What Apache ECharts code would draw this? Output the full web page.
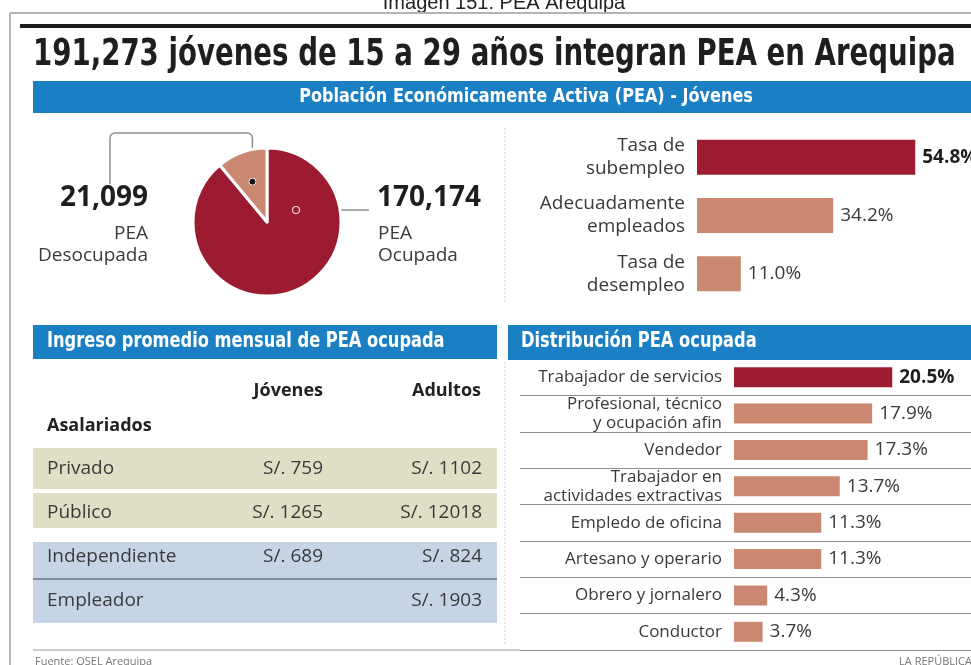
<!DOCTYPE html>
<html>
<head>
<meta charset="utf-8">
<script src="https://cdn.jsdelivr.net/npm/echarts@6/dist/echarts.min.js"></script>
<style>
  html, body { margin: 0; padding: 0; background: #ffffff; }
  #chart { width: 971px; height: 665px; }
</style>
</head>
<body>
<div id="chart"></div>
<script>
// Población Económicamente Activa (PEA) juvenil de Arequipa

// PEA ocupada / desocupada (personas)
const peaCategories = ['PEA Ocupada', 'PEA Desocupada'];
const peaValues = [170174, 21099];

// Situación de empleo (%)
const situacionCategories = ['Tasa de\nsubempleo', 'Adecuadamente\nempleados', 'Tasa de\ndesempleo'];
const situacionValues = [54.8, 34.2, 11.0];

// Distribución de la PEA ocupada por ocupación (%)
const ocupacionCategories = [
  'Trabajador de servicios',
  'Profesional, técnico\ny ocupación afin',
  'Vendedor',
  'Trabajador en\nactividades extractivas',
  'Empledo de oficina',
  'Artesano y operario',
  'Obrero y jornalero',
  'Conductor'
];
const ocupacionValues = [20.5, 17.9, 17.3, 13.7, 11.3, 11.3, 4.3, 3.7];

// Ingreso promedio mensual (S/.)
const ingresoColumnas = ['Jóvenes', 'Adultos'];
const ingresoCategorias = ['Privado', 'Público', 'Independiente', 'Empleador'];
const ingresoGrupos = ['Asalariados', 'Asalariados', 'Otros', 'Otros'];
const ingresoJovenes = [759, 1265, 689, null];
const ingresoAdultos = [1102, 12018, 824, 1903];

// Palette
const RED = '#9c1b31';
const TAN = '#c9886f';
const BLUE = '#1b7fc3';
const BEIGE = '#e1dec6';
const LIGHTBLUE = '#c6d4e6';
const INK = '#3a3a3a';
const BODY_FONT = '"Open Sans", "DejaVu Sans", sans-serif';
const NARROW_BOLD = '"DejaVu Sans Condensed", "DejaVu Sans", sans-serif';

const fmt = v => v.toLocaleString('en-US');
const totalPEA = peaValues.reduce((a, b) => a + b, 0);

// Pie geometry
const PIE_C = [267, 222];
const PIE_R = 74;
const shareDesocupada = peaValues[1] / totalPEA;
const midAngle = (90 + shareDesocupada * 180) * Math.PI / 180;
const dotDes = [PIE_C[0] + Math.cos(midAngle) * PIE_R * 0.58, PIE_C[1] - Math.sin(midAngle) * PIE_R * 0.58];
const dotOcu = [PIE_C[0] + 29, PIE_C[1] - 12];

const chart = echarts.init(document.getElementById('chart'), null, { renderer: 'canvas' });

function txt(x, y, text, o, sx, z) {
  return {
    type: 'text', x: x, y: y, silent: true, scaleX: sx || 1, z: z || 0,
    style: Object.assign({
      text: text, fill: INK, fontFamily: BODY_FONT, fontSize: 19,
      align: 'left', verticalAlign: 'middle'
    }, o || {})
  };
}
function line(x1, y1, x2, y2, stroke, w, dash) {
  return {
    type: 'line', silent: true,
    shape: { x1: x1, y1: y1, x2: x2, y2: y2 },
    style: { stroke: stroke, lineWidth: w, lineDash: dash || null }
  };
}
// rounded leader path: up from the dot, across, and down to the label
function leader(x0, y0, yTop, x1, y1, r) {
  return {
    type: 'group', silent: true, z: 10,
    children: [
      line(x0, y0, x0, yTop + r, '#8c8c8c', 1.5),
      { type: 'arc', shape: { cx: x0 - r, cy: yTop + r, r: r, startAngle: -Math.PI / 2, endAngle: 0 }, style: { stroke: '#8c8c8c', lineWidth: 1.5, fill: null } },
      line(x0 - r, yTop, x1 + r, yTop, '#8c8c8c', 1.5),
      { type: 'arc', shape: { cx: x1 + r, cy: yTop + r, r: r, startAngle: Math.PI, endAngle: Math.PI * 1.5 }, style: { stroke: '#8c8c8c', lineWidth: 1.5, fill: null } },
      line(x1, yTop + r, x1, y1, '#8c8c8c', 1.5)
    ]
  };
}

const graphics = [
  // caption + frame
  txt(504, 13, 'Imagen 151: PEA Arequipa', { align: 'center', verticalAlign: 'bottom', fontFamily: '"Liberation Sans", Arial, sans-serif', fontSize: 20, fill: '#222' }),
  line(10, 13, 971, 13, '#b4b4b4', 2),
  line(10, 13, 10, 665, '#b4b4b4', 2),
  line(20, 26, 971, 26, '#1c1c1c', 4),
  // headline
  txt(33, 55, fmt(totalPEA) + ' jóvenes de 15 a 29 años integran PEA en Arequipa', { fontFamily: NARROW_BOLD, fontWeight: 'bold', fontSize: 37, fill: '#1e1e1e' }, 0.83),
  // banner
  { type: 'rect', silent: true, shape: { x: 33, y: 81, width: 938, height: 32 }, style: { fill: BLUE } },
  txt(526, 97, 'Población Económicamente Activa (PEA) - Jóvenes', { align: 'center', fontFamily: NARROW_BOLD, fontWeight: 'bold', fontSize: 19, fill: '#ffffff' }, 0.94),
  // dividers
  line(505, 128, 505, 302, '#d2d2d2', 1, [2, 2]),
  line(505, 362, 505, 646, '#d2d2d2', 1, [2, 2]),
  // pie annotations
  txt(148, 198, fmt(peaValues[1]), { align: 'right', fontWeight: 'bold', fontSize: 28, fill: '#1e1e1e' }),
  txt(148, 234, 'PEA', { align: 'right', fontSize: 19 }),
  txt(148, 256, 'Desocupada', { align: 'right', fontSize: 19 }),
  txt(377, 198, fmt(peaValues[0]), { align: 'left', fontWeight: 'bold', fontSize: 28, fill: '#1e1e1e' }),
  txt(378, 234, 'PEA', { align: 'left', fontSize: 19 }),
  txt(378, 256, 'Ocupada', { align: 'left', fontSize: 19 }),
  leader(dotDes[0], dotDes[1] - 4, 133, 110, 184, 5),
  { type: 'circle', silent: true, z: 11, shape: { cx: dotDes[0], cy: dotDes[1], r: 3.5 }, style: { fill: '#111', stroke: '#f3e6e0', lineWidth: 1 } },
  line(dotOcu[0] + 4, dotOcu[1], 369, dotOcu[1], '#8c8c8c', 1.5),
  { type: 'circle', silent: true, z: 11, shape: { cx: dotOcu[0], cy: dotOcu[1], r: 3.5 }, style: { fill: RED, stroke: '#f1d4d8', lineWidth: 1.2 } },
  // section headers
  { type: 'rect', silent: true, z: 100, shape: { x: 33, y: 325, width: 464, height: 34 }, style: { fill: BLUE } },
  txt(47, 342, 'Ingreso promedio mensual de PEA ocupada', { fontFamily: NARROW_BOLD, fontWeight: 'bold', fontSize: 21, fill: '#ffffff' }, 0.86, 101),
  { type: 'rect', silent: true, z: 100, shape: { x: 508, y: 325, width: 463, height: 35 }, style: { fill: BLUE } },
  txt(521, 342, 'Distribución PEA ocupada', { fontFamily: NARROW_BOLD, fontWeight: 'bold', fontSize: 21, fill: '#ffffff' }, 0.86, 101),
  // table header
  txt(323, 391, ingresoColumnas[0], { align: 'right', fontWeight: 'bold', fontSize: 18, fill: '#222' }),
  txt(481, 391, ingresoColumnas[1], { align: 'right', fontWeight: 'bold', fontSize: 18, fill: '#222' }),
  txt(47, 426, ingresoGrupos[0], { fontWeight: 'bold', fontSize: 18, fill: '#222' }),
  // footer
  line(33, 650, 520, 650, '#9a9a9a', 1),
  txt(35, 662, 'Fuente: OSEL Arequipa', { fontSize: 11, fill: '#777' }),
  txt(972, 662, 'LA REPÚBLICA', { align: 'right', fontSize: 11, fill: '#777' })
];

const barLabel = (bold) => ({
  show: true, position: 'right', distance: 7,
  fontFamily: BODY_FONT, fontSize: 19, color: bold ? '#1e1e1e' : INK,
  fontWeight: bold ? 'bold' : 'normal',
  formatter: p => p.value.toFixed(1) + '%'
});

const catLabel = {
  fontFamily: BODY_FONT, color: INK, margin: 12, interval: 0
};

chart.setOption({
  animation: false,
  backgroundColor: '#ffffff',
  graphic: graphics,
  grid: [
    { left: 697, top: 128, width: 274, height: 175 },
    { left: 734, top: 359, width: 237, height: 291 },
    { left: 33, top: 447, width: 464, height: 176 }
  ],
  xAxis: [
    { gridIndex: 0, type: 'value', min: 0, max: 68.8, show: false },
    { gridIndex: 1, type: 'value', min: 0, max: 30.7, show: false },
    { gridIndex: 2, type: 'value', min: 0, max: 1, show: false }
  ],
  yAxis: [
    {
      gridIndex: 0, type: 'category', inverse: true, data: situacionCategories,
      axisLine: { show: false }, axisTick: { show: false },
      axisLabel: Object.assign({ fontSize: 19, lineHeight: 23 }, catLabel)
    },
    {
      gridIndex: 1, type: 'category', inverse: true, data: ocupacionCategories,
      axisLine: { show: false },
      axisTick: { show: true, length: 214, interval: 0, lineStyle: { color: '#8e8e8e', width: 1 } },
      splitLine: { show: true, interval: 0, lineStyle: { color: '#8e8e8e', width: 1 } },
      axisLabel: Object.assign({ fontSize: 17, lineHeight: 19 }, catLabel)
    },
    { gridIndex: 2, type: 'category', inverse: true, data: ingresoCategorias, show: false }
  ],
  series: [
    {
      type: 'pie', center: PIE_C, radius: PIE_R, startAngle: 90, clockwise: true,
      label: { show: false }, labelLine: { show: false }, silent: true,
      itemStyle: { borderColor: '#ffffff', borderWidth: 3 },
      data: peaCategories.map((name, i) => ({
        name: name, value: peaValues[i], itemStyle: { color: i === 0 ? RED : TAN }
      }))
    },
    {
      type: 'bar', xAxisIndex: 0, yAxisIndex: 0, barWidth: 35, silent: true,
      data: situacionValues.map((v, i) => ({
        value: v, itemStyle: { color: i === 0 ? RED : TAN }, label: barLabel(i === 0)
      }))
    },
    {
      type: 'bar', xAxisIndex: 1, yAxisIndex: 1, barWidth: 20, silent: true,
      data: ocupacionValues.map((v, i) => ({
        value: v, itemStyle: { color: i === 0 ? RED : TAN }, label: barLabel(i === 0)
      }))
    },
    {
      type: 'custom', xAxisIndex: 2, yAxisIndex: 2, silent: true,
      data: ingresoCategorias.map((_, i) => [0, i]),
      renderItem: function (params, api) {
        const i = api.value(1);
        const cs = params.coordSys;
        const cy = api.coord([0, i])[1];
        const band = api.size([0, 1])[1];
        const grp = ingresoGrupos[i];
        const asal = grp === 'Asalariados';
        const sameAbove = i > 0 && ingresoGrupos[i - 1] === grp;
        const sameBelow = i < ingresoGrupos.length - 1 && ingresoGrupos[i + 1] === grp;
        const inset = (same) => same ? (asal ? 2 : 0) : 7;
        const top = cy - band / 2 + (i === 0 ? 1 : inset(sameAbove));
        const bottom = cy + band / 2 - (i === ingresoGrupos.length - 1 ? 0 : inset(sameBelow));
        const children = [
          { type: 'rect', shape: { x: cs.x, y: top, width: cs.width, height: bottom - top }, style: { fill: asal ? BEIGE : LIGHTBLUE } }
        ];
        if (!asal && sameAbove) {
          children.push({ type: 'line', shape: { x1: cs.x, y1: top, x2: cs.x + cs.width, y2: top }, style: { stroke: '#7f8c9c', lineWidth: 2 } });
        }
        const ts = { fill: INK, fontFamily: BODY_FONT, fontSize: 19, verticalAlign: 'middle' };
        children.push({ type: 'text', x: cs.x + 14, y: cy, style: Object.assign({ text: ingresoCategorias[i], align: 'left' }, ts) });
        if (ingresoJovenes[i] != null) {
          children.push({ type: 'text', x: cs.x + 290, y: cy, style: Object.assign({ text: 'S/. ' + ingresoJovenes[i], align: 'right' }, ts) });
        }
        if (ingresoAdultos[i] != null) {
          children.push({ type: 'text', x: cs.x + 449, y: cy, style: Object.assign({ text: 'S/. ' + ingresoAdultos[i], align: 'right' }, ts) });
        }
        return { type: 'group', children: children };
      }
    }
  ]
});
</script>
</body>
</html>
